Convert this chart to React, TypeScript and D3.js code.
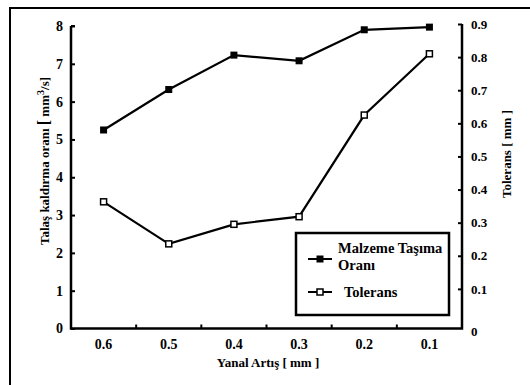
import React, { useEffect, useRef } from 'react'
import * as d3 from 'd3'

// yanal artis (mm)
const categories = ['0.6', '0.5', '0.4', '0.3', '0.2', '0.1']
// Malzeme Tasima Orani (mm3/s) - left axis
const malzeme = [5.25, 6.32, 7.23, 7.08, 7.9, 7.97]
// Tolerans (mm) - right axis
const tolerans = [0.363, 0.236, 0.295, 0.318, 0.625, 0.81]
const leftTicks = [0, 1, 2, 3, 4, 5, 6, 7, 8]
const rightTicks = [0.1, 0.2, 0.3, 0.4, 0.5, 0.6, 0.7, 0.8, 0.9]

const W = 530, H = 385
const FONT = 'Liberation Serif'

export default function App() {
  const ref = useRef<SVGSVGElement>(null)

  useEffect(() => {
    const svg = d3.select(ref.current)
    svg.selectAll('*').remove()

    const left = 71, right = 462, base = 328.5

    const x = d3.scaleBand().domain(categories).range([left, right])
    const yL = d3.scaleLinear().domain([0, 8]).range([base, 26])
    const yR = d3.scaleLinear().domain([0, 0.9]).range([322, 24])

    // outer frame
    svg.append('rect')
      .attr('x', 10).attr('y', 8)
      .attr('width', W).attr('height', H)
      .attr('fill', 'none').attr('stroke', '#000').attr('stroke-width', 2)

    const styleAxis = (g: any, size: number) => {
      g.attr('font-family', null)
      g.selectAll('.tick line').attr('stroke', '#000').attr('stroke-width', 2)
      g.selectAll('.tick text')
        .style('font-family', FONT).attr('font-weight', 'bold')
        .attr('font-size', size).attr('fill', '#000')
    }

    // left axis
    const gl = svg.append('g')
      .attr('transform', `translate(${left},0)`)
      .call(d3.axisLeft(yL).tickValues(leftTicks).tickSizeInner(-4).tickSizeOuter(0).tickPadding(8).tickFormat(d3.format('d')))
    gl.select('.domain').remove()
    styleAxis(gl, 14)

    // right axis
    const gr = svg.append('g')
      .attr('transform', `translate(${right},0)`)
      .call(d3.axisRight(yR).tickValues(rightTicks).tickSizeInner(-4).tickSizeOuter(0).tickPadding(9).tickFormat(d3.format('.1f')))
    gr.select('.domain').remove()
    styleAxis(gr, 13)
    gr.append('text')
      .attr('x', 9).attr('y', base).attr('dy', '0.6em')
      .style('font-family', FONT).attr('font-weight', 'bold').attr('font-size', 13)
      .attr('fill', '#000')
      .text('0')

    // bottom axis: labels at band centers, ticks at band edges
    const gb = svg.append('g')
      .attr('transform', `translate(0,${base})`)
      .call(d3.axisBottom(x).tickSize(0).tickPadding(11))
    gb.select('.domain').remove()
    styleAxis(gb, 14)
    svg.append('g').selectAll('line')
      .data(categories.slice(1))
      .enter().append('line')
      .attr('x1', d => x(d)!).attr('x2', d => x(d)!)
      .attr('y1', base).attr('y2', base - 4)
      .attr('stroke', '#000').attr('stroke-width', 2)

    // axis lines
    svg.append('path')
      .attr('d', `M${left},${yL(8)}V${base}H${right}V${yR(0.9)}`)
      .attr('fill', 'none').attr('stroke', '#000').attr('stroke-width', 2.5)
    svg.append('line')
      .attr('x1', left).attr('x2', left + 4).attr('y1', yL(8)).attr('y2', yL(8))
      .attr('stroke', '#000').attr('stroke-width', 2)

    const cx = (d: string) => x(d)! + x.bandwidth() / 2

    // Malzeme line
    const lineL = d3.line<number>().x((d, i) => cx(categories[i])).y(d => yL(d))
    svg.append('path').datum(malzeme)
      .attr('d', lineL).attr('fill', 'none').attr('stroke', '#000').attr('stroke-width', 2.2)
    svg.append('g').selectAll('rect')
      .data(malzeme).enter().append('rect')
      .attr('x', (d, i) => cx(categories[i]) - 3.5).attr('y', d => yL(d) - 3.5)
      .attr('width', 7).attr('height', 7).attr('fill', '#000')

    // Tolerans line
    const lineR = d3.line<number>().x((d, i) => cx(categories[i])).y(d => yR(d))
    svg.append('path').datum(tolerans)
      .attr('d', lineR).attr('fill', 'none').attr('stroke', '#000').attr('stroke-width', 2.2)
    svg.append('g').selectAll('rect')
      .data(tolerans).enter().append('rect')
      .attr('x', (d, i) => cx(categories[i]) - 3).attr('y', d => yR(d) - 3)
      .attr('width', 6).attr('height', 6).attr('fill', '#fff')
      .attr('stroke', '#000').attr('stroke-width', 1.5)

    // axis titles
    const lt = svg.append('text')
      .attr('transform', 'translate(49,161) rotate(-90)')
      .attr('text-anchor', 'middle')
      .style('font-family', FONT).attr('font-weight', 'bold').attr('font-size', 13)
    lt.append('tspan').text('Talaş kaldırma oranı  ')
    lt.append('tspan').attr('font-size', 16).text('[')
    lt.append('tspan').text(' mm')
    lt.append('tspan').attr('dy', -5).attr('font-size', 10).text('3')
    lt.append('tspan').attr('dy', 5).text('/s]')

    svg.append('text')
      .attr('transform', 'translate(511,154) rotate(-90)')
      .attr('text-anchor', 'middle')
      .style('font-family', FONT).attr('font-weight', 'bold').attr('font-size', 13)
      .text('Tolerans [ mm ]')

    svg.append('text')
      .attr('x', 268).attr('y', 367)
      .attr('text-anchor', 'middle')
      .style('font-family', FONT).attr('font-weight', 'bold').attr('font-size', 13)
      .text('Yanal Artış  [ mm ]')

    // legend
    const lg = svg.append('g')
    lg.append('rect')
      .attr('x', 296).attr('y', 233).attr('width', 153).attr('height', 82)
      .attr('fill', '#fff').attr('stroke', '#000').attr('stroke-width', 2.5)
    lg.append('line').attr('x1', 308).attr('x2', 332).attr('y1', 259).attr('y2', 259)
      .attr('stroke', '#000').attr('stroke-width', 2)
    lg.append('rect').attr('x', 316.5).attr('y', 255.5).attr('width', 7).attr('height', 7).attr('fill', '#000')
    lg.append('line').attr('x1', 308).attr('x2', 332).attr('y1', 292).attr('y2', 292)
      .attr('stroke', '#000').attr('stroke-width', 2)
    lg.append('rect').attr('x', 317).attr('y', 289).attr('width', 6).attr('height', 6)
      .attr('fill', '#fff').attr('stroke', '#000').attr('stroke-width', 1.5)
    const lgText = (tx: number, ty: number, s: string) =>
      lg.append('text').attr('x', tx).attr('y', ty)
        .style('font-family', FONT).attr('font-weight', 'bold').attr('font-size', 14.5)
        .text(s)
    lgText(338, 253, 'Malzeme Taşıma')
    lgText(338, 270, 'Oranı')
    lgText(344, 297, 'Tolerans')
  }, [])

  return (
    <div style={{ position: 'absolute', left: 0, top: 0 }}>
      <svg ref={ref} width={W} height={H} style={{ display: 'block', background: '#fff' }} />
    </div>
  )
}
